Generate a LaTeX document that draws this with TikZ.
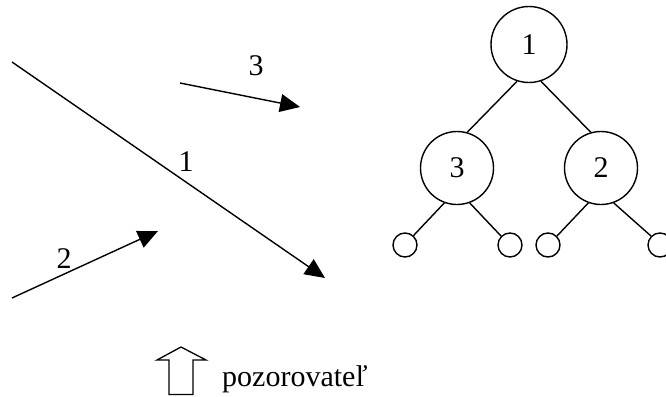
\documentclass[tikz,border=0pt]{standalone}
\usepackage{fontspec}
\setmainfont{Liberation Serif}
\usetikzlibrary{arrows.meta}
\begin{document}
\begin{tikzpicture}[x=1pt,y=-1pt,
  every node/.style={font=\fontsize{30}{36}\selectfont},
  ln/.style={line width=1.4pt},
  arr/.style={ln,-{Triangle[length=20pt,width=18pt]}},
  big/.style={circle,draw,line width=1.4pt,inner sep=0pt,minimum size=73pt},
  leaf/.style={circle,draw,line width=1.4pt,inner sep=0pt,minimum size=24pt},
  lbl/.style={anchor=base,inner sep=0pt}]
\useasboundingbox (0,0) rectangle (666,396);
% moving arrows
\coordinate (a1s) at (12,62);
\coordinate (a1e) at (325,278);
\coordinate (a2s) at (12,298);
\coordinate (a2e) at (158,231);
\coordinate (a3s) at (180,83);
\coordinate (a3e) at (300,107);
\draw[arr] (a1s) -- (a1e);
\draw[arr] (a2s) -- (a2e);
\draw[arr] (a3s) -- (a3e);
\node[lbl] (l1) at (186,171) {1};
\node[lbl] (l2) at (64,268) {2};
\node[lbl] (l3) at (256,75) {3};
% tree
\node[big,minimum size=76pt] (r) at (529,44.5) {1};
\node[big] (c3) at (457,168) {3};
\node[big] (c2) at (601,168) {2};
\node[leaf] (s1) at (405,245) {};
\node[leaf] (s2) at (510,245) {};
\node[leaf] (s3) at (548,245) {};
\node[leaf] (s4) at (660,245) {};
\draw[ln] (r.252) -- (c3.74);
\draw[ln] (r.288) -- (c2.106);
\draw[ln] (c3.250) -- (s1.48);
\draw[ln] (c3.290) -- (s2.135);
\draw[ln] (c2.250) -- (s3.45);
\draw[ln] (c2.290) -- (s4.135);
% observer
\draw[line width=1.3pt,line join=miter] (169,394.5) -- (169,360) -- (157,360) -- (181,347) -- (206,360) -- (193,360) -- (193,394.5) -- cycle;
\node[anchor=base west,inner sep=0pt] (obs) at (222,386) {pozorovateľ};
\end{tikzpicture}
\end{document}
